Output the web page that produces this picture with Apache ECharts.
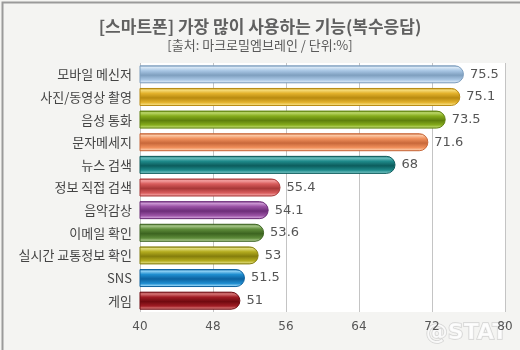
<!DOCTYPE html>
<html>
<head>
<meta charset="utf-8">
<script src="https://cdn.jsdelivr.net/npm/echarts@6/dist/echarts.min.js"></script>
<style>
  html, body { margin: 0; padding: 0; background: #f4f4f2; }
  #chart { width: 520px; height: 350px; }
</style>
</head>
<body>
<div id="chart"></div>
<script>
// Smartphone features used most (multiple answers), %
const categories = ['모바일 메신저', '사진/동영상 촬영', '음성 통화', '문자메세지', '뉴스 검색',
  '정보 직접 검색', '음악감상', '이메일 확인', '실시간 교통정보 확인', 'SNS', '게임'];
const values = [75.5, 75.1, 73.5, 71.6, 68, 55.4, 54.1, 53.6, 53, 51.5, 51];
// per-bar colours: [light, base, dark]
const barColors = [
  ['#d6e6f5', '#a8c6e4', '#7f9fbf'],
  ['#f6dc7a', '#e3b22c', '#b88a10'],
  ['#bcd86a', '#86ac1c', '#5e800c'],
  ['#fcc8a4', '#f0905c', '#c8683a'],
  ['#6cc0c0', '#1f8a8a', '#0c5c5c'],
  ['#f4a0a0', '#d85c5c', '#a83838'],
  ['#cc98d4', '#9a52a4', '#6c2c78'],
  ['#a8c88a', '#5e8c3a', '#3c6420'],
  ['#e0dc7a', '#b4ac1e', '#847e0c'],
  ['#8cd0f4', '#1f8ed0', '#0c62a0'],
  ['#d87878', '#a01c24', '#700a10']
];
const xTicks = { min: 40, max: 80, interval: 8 };

const chart = echarts.init(document.getElementById('chart'));

function cylinder(c) {
  return new echarts.graphic.LinearGradient(0, 0, 0, 1, [
    { offset: 0, color: c[2] },
    { offset: 0.12, color: c[0] },
    { offset: 0.3, color: c[1] },
    { offset: 0.55, color: c[2] },
    { offset: 0.8, color: c[1] },
    { offset: 0.93, color: c[0] },
    { offset: 1, color: c[2] }
  ]);
}

const data = values.map((v, i) => ({
  value: v,
  itemStyle: {
    color: cylinder(barColors[i]),
    borderColor: barColors[i][2],
    borderWidth: 1,
    borderRadius: [0, 9, 9, 0]
  }
}));

chart.setOption({
  backgroundColor: '#f4f4f2',
  animation: false,
  title: [{
    text: '[스마트폰] 가장 많이 사용하는 기능(복수응답)',
    left: 'center', top: 13,
    textStyle: { fontFamily: 'Noto Sans CJK KR', fontSize: 17, fontWeight: 'bold', color: '#606060' }
  }, {
    text: '[출처: 마크로밀엠브레인 / 단위:%]',
    left: 'center', top: 34,
    textStyle: { fontFamily: 'Noto Sans CJK KR', fontSize: 13, fontWeight: 'normal', color: '#5a5a5a' }
  }],
  grid: {
    left: 140, right: 15, top: 63, height: 249,
    show: true, backgroundColor: '#ffffff', borderWidth: 0,
    containLabel: false
  },
  xAxis: {
    type: 'value',
    min: xTicks.min, max: xTicks.max, interval: xTicks.interval,
    axisLine: { show: false },
    axisTick: { show: false },
    splitLine: { show: true, lineStyle: { color: '#c4c4c4', width: 1 } },
    axisLabel: { color: '#555', fontSize: 12, fontFamily: 'DejaVu Sans', margin: 9 }
  },
  yAxis: {
    type: 'category',
    data: categories,
    inverse: true,
    axisLine: { show: false },
    axisTick: { show: false },
    axisLabel: { color: '#444', fontSize: 13, fontFamily: 'Noto Sans CJK KR', margin: 8 }
  },
  series: [{
    type: 'bar',
    data: data,
    barWidth: 18,
    label: {
      show: true, position: 'right', distance: 6,
      color: '#555', fontSize: 13, fontFamily: 'DejaVu Sans'
    }
  }],
  graphic: [{
    type: 'rect',
    left: 0, top: 0,
    shape: { width: 519, height: 349 },
    style: { fill: 'none', stroke: '#9a9a9a', lineWidth: 2 },
    silent: true
  }, {
    type: 'text',
    right: 12, bottom: 5,
    style: {
      text: '@STAT',
      font: 'bold 22px "DejaVu Sans"',
      fill: 'rgba(255,255,255,0.8)',
      stroke: 'rgba(180,180,180,0.5)',
      lineWidth: 1.5
    },
    silent: true
  }]
});
</script>
</body>
</html>
